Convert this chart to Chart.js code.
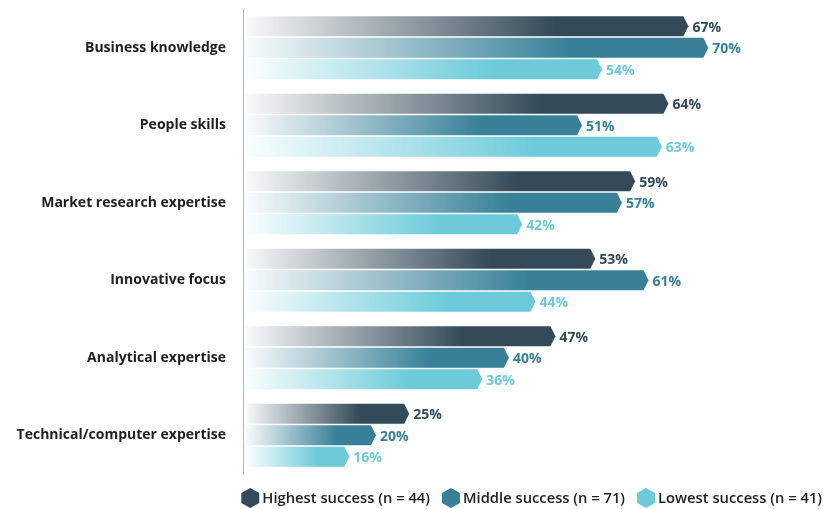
<!DOCTYPE html>
<html>
<head>
<meta charset="utf-8">
<script src="https://cdn.jsdelivr.net/npm/chart.js@4"></script>
<style>
  html, body { margin: 0; padding: 0; background: #fff; }
  #wrap { width: 828px; height: 509px; }
</style>
</head>
<body>
<div id="wrap"><canvas id="barChart"></canvas></div>
<script>
// chart data
const categories = ['Business knowledge', 'People skills', 'Market research expertise', 'Innovative focus', 'Analytical expertise', 'Technical/computer expertise'];
const seriesNames = ['Highest success (n = 44)', 'Middle success (n = 71)', 'Lowest success (n = 41)'];
const highest = [67, 64, 59, 53, 47, 25];
const middle = [70, 51, 57, 61, 40, 20];
const lowest = [54, 63, 42, 44, 36, 16];

const colors = ['52,74,88', '56,128,152', '108,202,217'];
const FONT = "'Open Sans', sans-serif";

function hexPath(ctx, x, y, w, h) {
    ctx.beginPath();
    ctx.moveTo(x + w / 2, y);
    ctx.lineTo(x + w, y + h / 4);
    ctx.lineTo(x + w, y + h * 3 / 4);
    ctx.lineTo(x + w / 2, y + h);
    ctx.lineTo(x, y + h * 3 / 4);
    ctx.lineTo(x, y + h / 4);
    ctx.closePath();
}

// pointed gradient bars + value labels
const arrowBars = {
    id: 'arrowBars',
    afterDatasetsDraw(chart) {
        const ctx = chart.ctx;
        chart.data.datasets.forEach((ds, i) => {
            const meta = chart.getDatasetMeta(i);
            if (meta.hidden) return;
            meta.data.forEach((bar, j) => {
                const p = bar.getProps(['x', 'y', 'base', 'height'], true);
                const left = p.base + 3;
                const right = p.x;
                const top = p.y - p.height / 2;
                const bottom = p.y + p.height / 2;
                const tip = 5;
                const grad = ctx.createLinearGradient(left, 0, right, 0);
                grad.addColorStop(0, 'rgba(' + colors[i] + ',0.03)');
                grad.addColorStop(0.7, 'rgba(' + colors[i] + ',1)');
                grad.addColorStop(1, 'rgba(' + colors[i] + ',1)');
                ctx.save();
                ctx.fillStyle = grad;
                ctx.beginPath();
                ctx.moveTo(left, top);
                ctx.lineTo(right - tip, top);
                ctx.lineTo(right, p.y);
                ctx.lineTo(right - tip, bottom);
                ctx.lineTo(left, bottom);
                ctx.closePath();
                ctx.fill();

                ctx.fillStyle = 'rgb(' + colors[i] + ')';
                ctx.font = 'bold 14px ' + FONT;
                ctx.textAlign = 'left';
                ctx.textBaseline = 'middle';
                ctx.fillText(ds.data[j] + '%', right + 4, p.y + 1.5);
                ctx.restore();
            });
        });
    }
};

// legend with hexagon markers, right aligned under the bars
const hexLegend = {
    id: 'hexLegend',
    afterDraw(chart) {
        const ctx = chart.ctx;
        const y = chart.height - 11;
        ctx.save();
        ctx.font = '600 14.75px ' + FONT;
        ctx.textBaseline = 'middle';
        ctx.textAlign = 'left';
        let x = 822;
        for (let i = seriesNames.length - 1; i >= 0; i--) {
            const w = ctx.measureText(seriesNames[i]).width;
            x -= w;
            ctx.fillStyle = '#222';
            ctx.fillText(seriesNames[i], x, y + 1);
            x -= 21;
            ctx.fillStyle = 'rgb(' + colors[i] + ')';
            hexPath(ctx, x, y - 10, 18, 20);
            ctx.fill();
            x -= 12;
        }
        ctx.restore();
    }
};

const ctx = document.getElementById('barChart').getContext('2d');
const chart = new Chart(ctx, {
    type: 'bar',
    data: {
        labels: categories,
        datasets: [
            { label: seriesNames[0], data: highest },
            { label: seriesNames[1], data: middle },
            { label: seriesNames[2], data: lowest }
        ].map(d => Object.assign(d, {
            backgroundColor: 'rgba(0,0,0,0)',
            borderWidth: 0,
            categoryPercentage: 0.83,
            barPercentage: 0.93
        }))
    },
    options: {
        indexAxis: 'y',
        responsive: true,
        maintainAspectRatio: false,
        animation: false,
        layout: { padding: { top: 9, right: 0, bottom: 35, left: 0 } },
        plugins: {
            legend: { display: false },
            tooltip: { enabled: false }
        },
        scales: {
            x: {
                display: false,
                min: 0,
                max: 88
            },
            y: {
                grid: { display: false, drawTicks: false },
                border: { display: true, color: '#b5b5b5', width: 1 },
                ticks: {
                    padding: 17,
                    color: '#1e1e1e',
                    font: { family: FONT, size: 14, weight: 'bold' }
                },
                afterFit: function(scale) {
                    scale.width = 243;
                    scale.paddingTop = 0;
                    scale.paddingBottom = 0;
                }
            }
        }
    },
    plugins: [arrowBars, hexLegend]
});
</script>
</body>
</html>
